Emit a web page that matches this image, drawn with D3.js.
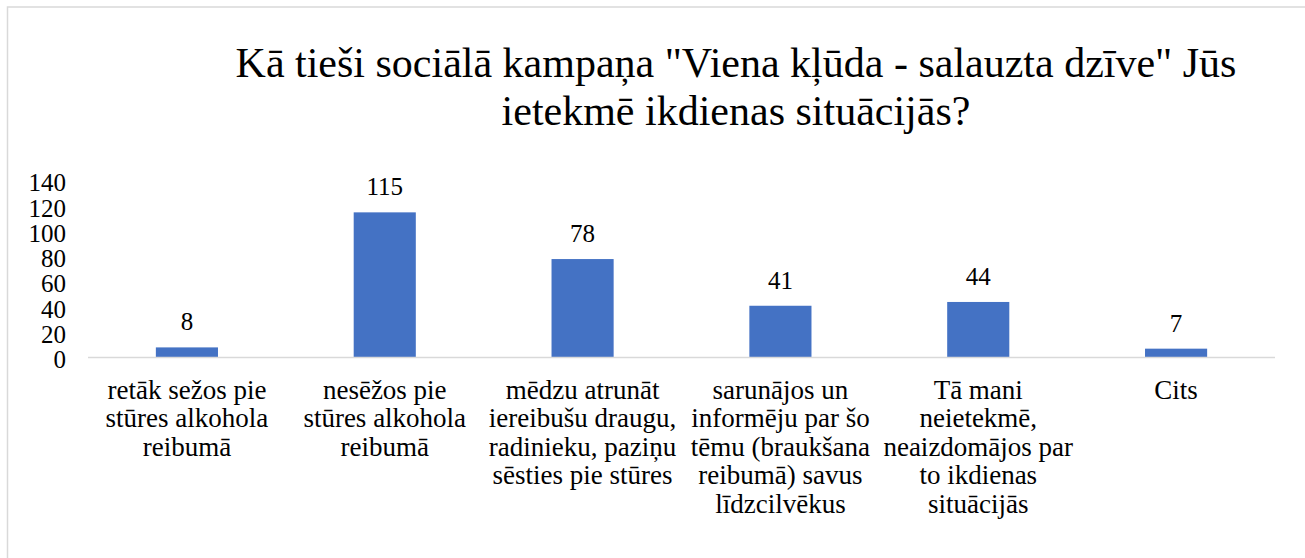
<!DOCTYPE html>
<html><head><meta charset="utf-8">
<script src="https://cdn.jsdelivr.net/npm/d3@7"></script>
<style>body{margin:0;background:#fff;font-size:24px}</style>
</head><body><div id="d"></div><svg id="c" width="1305" height="558"></svg>
<script>
const FONT = "Liberation Serif";
const titleLines = ["Kā tieši sociālā kampaņa \"Viena kļūda - salauzta dzīve\" Jūs", "ietekmē ikdienas situācijās?"];
const categories = [
  ["retāk sežos pie", "stūres alkohola", "reibumā"],
  ["nesēžos pie", "stūres alkohola", "reibumā"],
  ["mēdzu atrunāt", "iereibušu draugu,", "radinieku, paziņu", "sēsties pie stūres"],
  ["sarunājos un", "informēju par šo", "tēmu (braukšana", "reibumā) savus", "līdzcilvēkus"],
  ["Tā mani", "neietekmē,", "neaizdomājos par", "to ikdienas", "situācijās"],
  ["Cits"]
];
const values = [8, 115, 78, 41, 44, 7];
const yTicks = [0, 20, 40, 60, 80, 100, 120, 140];

const svg = d3.select("#c");
svg.append("rect").attr("x", 7.5).attr("y", 7).attr("width", 1400).attr("height", 600)
  .attr("fill", "none").attr("stroke", "#d9d9d9").attr("stroke-width", 1.5);

const pLeft = 88, pRight = 1275, pTop = 180.8, pBottom = 357.5;
const x = d3.scaleBand().domain(d3.range(categories.length)).range([pLeft, pRight]).paddingInner(0.686).paddingOuter(0.343);
const y = d3.scaleLinear().domain([0, 140]).range([pBottom, pTop]);

titleLines.forEach((t, i) => svg.append("text").attr("x", 736).attr("y", 77 + i * 48)
  .attr("text-anchor", "middle").attr("font-size", 42).attr("font-family", FONT).text(t));

// y axis
const ya = svg.append("g").attr("transform", `translate(${66},0)`)
  .call(d3.axisLeft(y).tickValues(yTicks).tickSize(0).tickPadding(0));
ya.attr("font-family", FONT);
ya.select(".domain").remove();
ya.selectAll("text").attr("font-size", 25).attr("font-family", FONT).attr("fill", "#000").attr("dy", "0.4em");

// bars
svg.selectAll("rect.bar").data(values).join("rect").attr("class", "bar")
  .attr("x", (d, i) => x(i)).attr("width", x.bandwidth())
  .attr("y", d => y(d)).attr("height", d => y(0) - y(d)).attr("fill", "#4472c4");

// x axis
const xa = svg.append("g").attr("transform", `translate(0,${pBottom})`)
  .call(d3.axisBottom(x).tickSize(0).tickFormat(""));
xa.attr("font-family", FONT);
xa.select(".domain").attr("stroke", "#d9d9d9").attr("stroke-width", 1.5).attr("d", `M${pLeft},0H${pRight}`);
xa.selectAll(".tick").each(function(d) {
  const g = d3.select(this);
  categories[d].forEach((line, j) => g.append("text").attr("x", 0).attr("y", 41 + j * 28.5)
    .attr("text-anchor", "middle").attr("font-size", 27).attr("font-family", FONT).attr("fill", "#000").text(line));
});

// data labels
svg.selectAll("text.lbl").data(values).join("text").attr("class", "lbl")
  .attr("x", (d, i) => x(i) + x.bandwidth() / 2).attr("y", d => y(d) - 17)
  .attr("text-anchor", "middle").attr("font-size", 25).attr("font-family", FONT).text(d => d);
</script></body></html>
